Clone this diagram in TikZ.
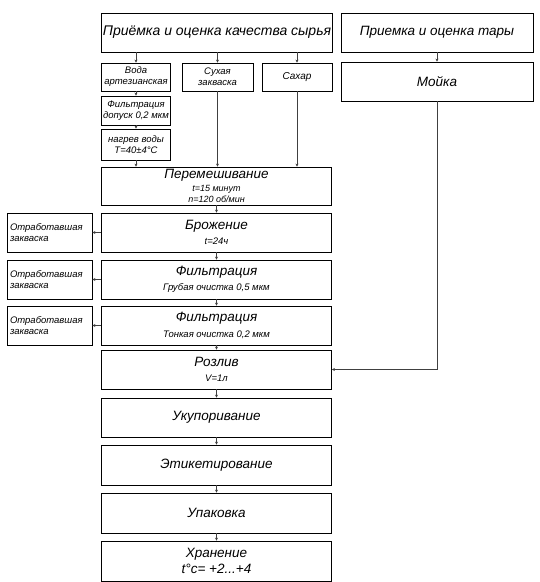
\documentclass[tikz,border=0pt]{standalone}
\usepackage{fontspec}
\setmainfont{Liberation Sans}
\usetikzlibrary{arrows.meta}
\newcommand{\bigtxt}{\fontsize{13.5}{15.5}\selectfont\itshape}
\newcommand{\midtxt}{\fontsize{9.5}{11}\selectfont\itshape}
\newcommand{\subtxt}{\fontsize{9.5}{11}\selectfont\itshape}
\begin{document}
\begin{tikzpicture}[x=1pt,y=-1pt,
    stage/.style={draw,line width=0.8pt,minimum width=230pt,minimum height=39pt,inner sep=1pt,align=center,font=\bigtxt},
    tarebox/.style={draw,line width=0.8pt,minimum width=192pt,minimum height=39pt,inner sep=1pt,align=center,font=\bigtxt},
    input/.style={draw,line width=0.8pt,minimum width=69pt,minimum height=28pt,inner sep=1pt,align=center,font=\midtxt},
    waste/.style={draw,line width=0.8pt,minimum width=85pt,minimum height=39pt,inner sep=3pt,text width=79pt,align=left,font=\midtxt},
    flow/.style={line width=0.7pt,draw=black!75,-{Stealth[length=3pt,width=3pt]}}]

\useasboundingbox (0,0) rectangle (540,582);

% raw materials and tare
\node[stage,minimum width=231pt,font=\fontsize{14}{16}\selectfont\itshape] (raw) at (217,32.5) {Приёмка и оценка качества сырья};
\node[tarebox] (tare) at (437,32.5) {Приемка и оценка тары};
\node[tarebox] (wash) at (437,81.5) {Мойка};

% inputs
\node[input] (water) at (136,77) {Вода\\артезианская};
\node[input,minimum width=71pt] (starter) at (217.5,77) {Сухая\\закваска};
\node[input,minimum width=70pt,font=\fontsize{10}{12}\selectfont\itshape] (sugar) at (297,77) {Сахар};
\node[input,minimum height=29pt] (filtw) at (136,110.5) {Фильтрация\\допуск 0,2 мкм};
\node[input,minimum height=31pt] (heat) at (136,144.5) {нагрев воды\\T=40±4°C};

% main line
\node[stage,minimum height=38pt,inner sep=0pt] (mix) at (216.5,186) {Перемешивание\\[-2.5pt]\fontsize{9}{10}\selectfont t=15 минут\\[-5pt]\fontsize{9}{10}\selectfont n=120 об/мин};
\node[stage] (ferm) at (216.5,232.5) {Брожение\\\subtxt t=24ч};
\node[stage] (filt1) at (216.5,279.5) {Фильтрация\\\subtxt Грубая очистка 0,5 мкм};
\node[stage] (filt2) at (216.5,325.5) {Фильтрация\\\subtxt Тонкая очистка 0,2 мкм};
\node[stage] (bottle) at (216.5,369.5) {Розлив\\\subtxt V=1л};
\node[stage] (cap) at (216.5,417.5) {Укупоривание};
\node[stage,minimum height=40pt] (label) at (216.5,465) {Этикетирование};
\node[stage,minimum height=40pt] (pack) at (216.5,513) {Упаковка};
\node[stage,minimum height=40pt] (store) at (216.5,561) {Хранение\\t°c= +2...+4};

% spent starter
\node[waste] (waste1) at (49.5,232.5) {Отработавшая\\закваска};
\node[waste] (waste2) at (49.5,279.5) {Отработавшая\\закваска};
\node[waste] (waste3) at (49.5,325.5) {Отработавшая\\закваска};

\draw[flow] (raw.south -| water) -- (water);
\draw[flow] (raw.south -| starter) -- (starter);
\draw[flow] (raw.south -| sugar) -- (sugar);
\draw[flow] (water) -- (filtw);
\draw[flow] (filtw) -- (heat);
\draw[flow] (heat) -- (heat |- mix.north);
\draw[flow] (starter) -- (starter |- mix.north);
\draw[flow] (sugar) -- (sugar |- mix.north);
\draw[flow] (tare) -- (wash);

\draw[flow] (mix) -- (ferm);
\draw[flow] (ferm) -- (filt1);
\draw[flow] (filt1) -- (filt2);
\draw[flow] (filt2) -- (bottle);
\draw[flow] (bottle) -- (cap);
\draw[flow] (cap) -- (label);
\draw[flow] (label) -- (pack);
\draw[flow] (pack) -- (store);

\draw[flow] (ferm) -- (waste1);
\draw[flow] (filt1) -- (waste2);
\draw[flow] (filt2) -- (waste3);

\draw[flow] (wash.south) |- (bottle.east);
\end{tikzpicture}
\end{document}
